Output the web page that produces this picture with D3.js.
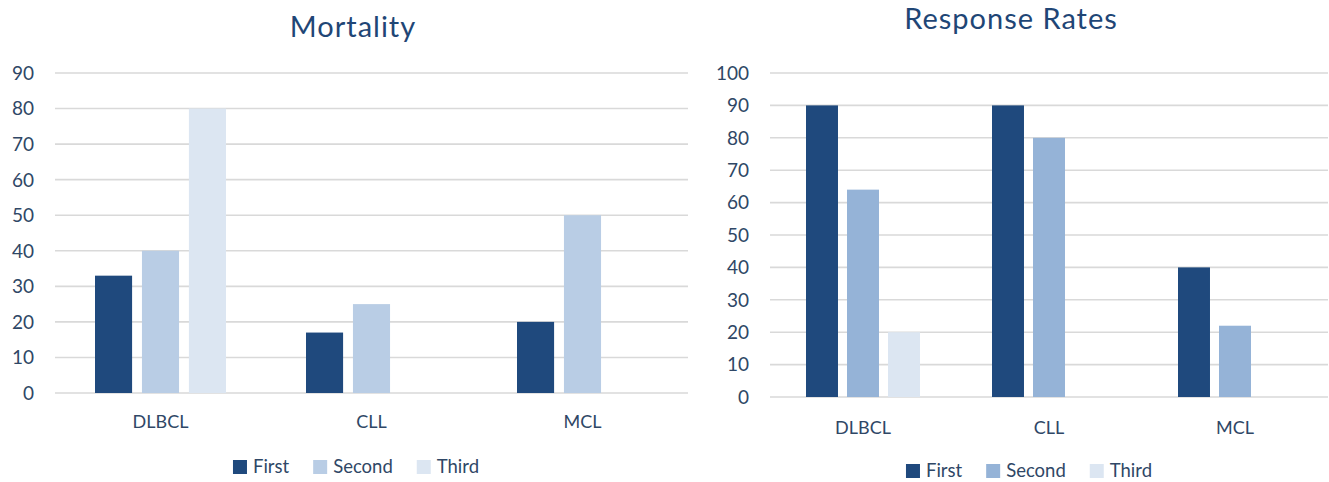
<!DOCTYPE html>
<html>
<head>
<meta charset="utf-8">
<script src="https://cdnjs.cloudflare.com/ajax/libs/d3/7.8.5/d3.min.js"></script>
<style>
  body { margin: 0; background: #fff; }
  svg { display: block; font-family: Lato, "Open Sans", sans-serif; }
</style>
</head>
<body>
<svg id="chart" width="1329" height="482"></svg>
<script>
// data
const categories = ["DLBCL", "CLL", "MCL"];
const seriesNames = ["First", "Second", "Third"];
const mortality = [
  [33, 40, 80],    // DLBCL
  [17, 25, null],  // CLL
  [20, 50, null]   // MCL
];
const responseRates = [
  [90, 64, 20],
  [90, 80, null],
  [40, 22, null]
];
const mortalityTicks = [0, 10, 20, 30, 40, 50, 60, 70, 80, 90];
const responseTicks = [0, 10, 20, 30, 40, 50, 60, 70, 80, 90, 100];

const svg = d3.select("#chart");
const textColor = "#2f4766";

function drawChart(opt) {
  const g = svg.append("g");
  const y = d3.scaleLinear().domain([0, opt.max]).range([opt.y0, opt.y1]);
  const x0 = d3.scaleBand().domain(categories).range([opt.left, opt.right]);
  const x1 = d3.scaleBand().domain(seriesNames)
      .range([opt.groupPad, x0.bandwidth() - opt.groupPad])
      .paddingInner(opt.barGap);
  const color = d3.scaleOrdinal().domain(seriesNames).range(opt.colors);

  // title
  g.append("text")
    .attr("x", opt.titleX).attr("y", opt.titleY)
    .attr("text-anchor", "middle")
    .attr("font-size", 29)
    .attr("letter-spacing", 1)
    .attr("fill", "#1f4676")
    .text(opt.title);

  // grid lines
  g.append("g").selectAll("line")
    .data(opt.ticks)
    .join("line")
    .attr("x1", opt.left).attr("x2", opt.right)
    .attr("y1", d => y(d)).attr("y2", d => y(d))
    .attr("stroke", "#d9d9d9")
    .attr("stroke-width", 1.6);

  // y tick labels
  g.append("g").selectAll("text")
    .data(opt.ticks)
    .join("text")
    .attr("x", opt.labelX)
    .attr("y", d => y(d))
    .attr("dy", "0.36em")
    .attr("text-anchor", "end")
    .attr("font-size", 19)
    .attr("fill", textColor)
    .text(d => d);

  // bars
  g.append("g").selectAll("g")
    .data(opt.values)
    .join("g")
    .attr("transform", (d, i) => `translate(${x0(categories[i])},0)`)
    .selectAll("rect")
    .data(d => d.map((v, j) => ({ key: seriesNames[j], value: v })).filter(e => e.value != null))
    .join("rect")
    .attr("x", d => x1(d.key))
    .attr("width", x1.bandwidth())
    .attr("y", d => y(d.value))
    .attr("height", d => y(0) - y(d.value))
    .attr("fill", d => color(d.key));

  // category labels
  g.append("g").selectAll("text")
    .data(categories)
    .join("text")
    .attr("x", d => x0(d) + x0.bandwidth() / 2)
    .attr("y", opt.catY)
    .attr("text-anchor", "middle")
    .attr("font-size", 18)
    .attr("fill", textColor)
    .text(d => d);

  // legend
  const leg = g.append("g");
  let cx = 0;
  seriesNames.forEach(name => {
    const it = leg.append("g");
    it.append("rect").attr("x", 0).attr("y", -13).attr("width", 14).attr("height", 14)
      .attr("fill", color(name));
    const t = it.append("text").attr("x", 20).attr("y", 0)
      .attr("font-size", 18.5).attr("fill", textColor).text(name);
    const w = 20 + t.node().getComputedTextLength();
    it.attr("transform", `translate(${cx},0)`);
    cx += w + 24;
  });
  const total = cx - 24;
  leg.attr("transform", `translate(${opt.legendX - total / 2},${opt.legendY})`);
}

drawChart({
  title: "Mortality", titleX: 353, titleY: 37,
  values: mortality, ticks: mortalityTicks, max: 90,
  left: 55, right: 688, y0: 393, y1: 73, labelX: 34,
  groupPad: 40, barGap: 0.21,
  colors: ["#1f497d", "#b9cde5", "#dce6f2"],
  catY: 428, legendX: 356, legendY: 473
});

drawChart({
  title: "Response Rates", titleX: 1011, titleY: 29,
  values: responseRates, ticks: responseTicks, max: 100,
  left: 770, right: 1328, y0: 397, y1: 73, labelX: 749,
  groupPad: 36, barGap: 0.22,
  colors: ["#1f497d", "#95b3d7", "#dce6f2"],
  catY: 434, legendX: 1029, legendY: 477
});
</script>
</body>
</html>
